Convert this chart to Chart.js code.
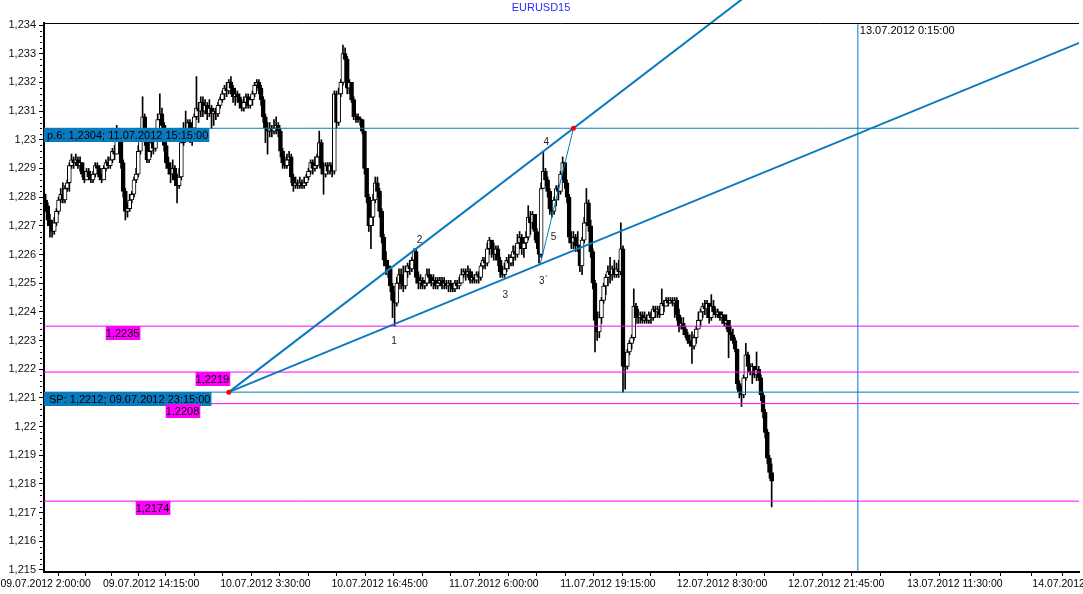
<!DOCTYPE html>
<html>
<head>
<meta charset="utf-8">
<title>EURUSD15</title>
<script src="https://cdn.jsdelivr.net/npm/chart.js@4.4.0/dist/chart.umd.min.js"></script>
<style>
  html, body { margin: 0; padding: 0; background: #fff; }
</style>
</head>
<body>
<canvas id="chart" width="1083" height="594"></canvas>
<script>
// EURUSD M15 from 09.07.2012 2:00, one entry per bar,
// prices in pips above 1.2000 (277 -> 1.2277)
const firstTime = '09.07.2012 2:00:00';
const firstOpen = 279;
const closes = [
  277,272,270,268,271,275,279,281,279,283,
  285,291,293,292,293,291,292,288,286,
  289,287,286,288,291,290,287,286,290,292,
  291,293,296,295,303,301,292,282,275,
  276,279,281,286,288,296,303,308,300,293,
  296,299,297,302,307,309,305,298,292,290,
  288,290,286,284,287,299,304,303,306,
  301,304,308,311,310,313,310,312,309,311,
  309,310,309,312,314,316,318,317,320,318,
  315,316,315,313,311,313,315,312,314,
  316,319,320,318,314,308,304,303,304,303,
  304,305,303,296,292,291,293,294,287,
  284,285,284,285,284,285,287,289,292,290,
  291,294,299,290,288,291,289,291,289,316,
  306,316,320,330,328,318,320,314,308,
  308,307,307,303,290,280,270,273,279,285,
  282,275,266,258,256,255,249,244,243,250,
  253,250,249,254,256,255,258,261,252,
  250,251,249,250,253,252,250,251,249,250,
  251,249,250,249,250,249,248,250,249,
  250,253,254,253,254,251,252,251,253,252,
  256,258,257,262,265,262,260,262,258,254,
  253,255,258,257,259,261,260,264,266,
  262,264,266,273,271,274,268,264,260,283,
  289,286,282,276,275,279,283,282,288,292,
  285,280,266,264,266,263,263,256,265,
  271,278,270,261,250,237,233,238,244,249,
  252,254,253,255,253,255,254,262,221,
  221,226,229,231,242,238,238,239,237,238,
  237,239,238,241,240,241,239,243,242,244,
  243,244,243,244,239,235,236,234,232,
  230,229,228,231,234,237,240,242,241,243,
  238,242,240,239,240,238,239,236,237,233,
  232,230,227,215,212,211,217,225,221,
  219,221,218,220,217,211,205,198,189,184,
  181
];
const highs = [
  281,278,274,272,273,276,280,283,285,284,
  286,292,295,294,295,294,294,292,289,
  290,290,288,289,292,292,291,288,291,293,
  294,294,297,298,305,304,302,293,283,
  278,281,282,287,290,298,304,315,309,301,
  300,301,300,303,309,316,311,306,299,294,
  292,293,291,288,290,300,306,310,307,
  307,306,309,322,313,315,315,314,313,314,
  312,311,311,313,315,317,319,320,321,322,
  319,318,317,316,314,315,316,316,315,
  317,320,321,321,319,315,309,306,306,305,
  307,308,306,304,297,294,295,296,295,
  288,287,286,287,286,287,288,290,293,293,
  294,295,303,300,292,292,292,292,292,317,
  317,318,321,333,332,329,321,320,315,
  309,309,308,307,303,290,281,275,281,287,
  287,283,276,267,261,258,256,250,247,252,
  255,255,256,256,257,258,259,262,262,
  254,253,252,251,255,255,253,253,252,252,
  252,252,252,251,251,251,250,251,251,
  252,255,255,255,256,255,254,253,254,254,
  257,259,259,264,266,265,264,263,263,259,
  256,257,259,260,260,263,263,267,268,
  267,266,268,277,275,275,274,269,265,285,
  296,290,287,283,278,280,284,284,289,294,
  292,286,281,268,268,267,268,263,266,
  273,283,279,272,262,251,240,240,245,250,
  253,256,259,256,258,257,258,271,263,
  226,227,230,232,248,243,241,240,240,240,
  239,240,240,242,242,242,242,248,244,245,
  245,245,245,245,245,241,238,238,235,
  233,232,233,232,235,240,241,243,244,244,
  243,246,244,241,241,240,240,239,239,237,
  235,234,231,227,216,214,218,229,226,
  222,222,221,226,221,218,212,206,199,190,
  187
];
const lows = [
  275,270,266,266,267,270,274,278,278,278,
  282,282,290,290,291,290,289,287,285,
  286,286,285,285,287,288,286,285,286,289,
  290,290,292,293,295,299,290,280,272,
  273,275,278,280,285,287,295,302,298,292,
  292,294,295,296,301,305,303,296,290,288,
  285,286,284,278,283,286,298,301,300,
  299,298,302,307,306,308,308,309,307,308,
  304,305,307,308,311,313,314,315,316,316,
  313,312,313,311,310,310,311,311,311,
  312,315,317,316,312,306,299,295,301,301,
  302,302,301,294,290,290,290,291,285,
  282,283,283,283,283,283,284,286,288,288,
  289,290,292,288,281,287,288,288,287,288,
  304,305,315,319,325,316,316,313,307,
  306,306,305,302,288,278,268,262,270,278,
  280,273,264,256,253,252,247,238,235,242,
  248,248,247,248,252,253,254,255,250,
  248,248,248,248,249,250,249,248,248,248,
  249,248,248,248,247,247,247,247,248,
  248,250,252,251,252,250,250,250,250,250,
  251,255,255,256,260,259,258,258,256,252,
  252,252,254,255,256,256,258,259,262,
  260,259,262,265,267,269,265,262,257,259,
  283,284,280,274,273,274,277,279,281,286,
  283,278,264,262,262,261,261,254,253,
  264,270,268,259,248,226,230,231,236,243,
  246,249,250,251,252,252,252,253,212,
  213,220,225,227,230,236,236,236,236,236,
  236,236,236,237,238,238,238,239,240,242,
  242,243,242,238,237,233,234,232,231,
  229,228,222,227,229,234,235,238,239,238,
  236,237,239,238,238,237,236,235,234,224,
  230,229,226,213,210,207,210,216,220,
  218,215,217,216,216,209,203,196,187,182,
  172
];

// time axis labels
const timeLabels = [
  '09.07.2012 2:00:00', '09.07.2012 14:15:00', '10.07.2012 3:30:00',
  '10.07.2012 16:45:00', '11.07.2012 6:00:00', '11.07.2012 19:15:00',
  '12.07.2012 8:30:00', '12.07.2012 21:45:00', '13.07.2012 11:30:00',
  '14.07.2012 1:45:00'
];
const priceTicks = [1.215, 1.216, 1.217, 1.218, 1.219, 1.22, 1.221, 1.222, 1.223, 1.224,
  1.225, 1.226, 1.227, 1.228, 1.229, 1.23, 1.231, 1.232, 1.233, 1.234];

// horizontal levels
const levelPrices = [1.2304, 1.2235, 1.2219, 1.2212, 1.2208, 1.2174];
const levelTexts = ['p.6: 1,2304; 11.07.2012 15:15:00', '1,2235', '1,2219',
  'SP: 1,2212; 09.07.2012 23:15:00', '1,2208', '1,2174'];

// wave points
const spTime = '09.07.2012 23:15:00', spPrice = 1.2212;
const p6Time = '11.07.2012 15:15:00', p6Price = 1.2304;
const point1 = { bar: 161.2, price: 1.22355 };
const point3b = { bar: 229.6, price: 1.22566 };
const waveTexts = ['1', '2', '3', '3`', '4', '5'];
const waveBars = [161.7, 173.6, 213.4, 231.1, 232.4, 235.7];
const wavePrices = [1.22296, 1.22648, 1.22459, 1.22508, 1.22991, 1.2266];

const markerText = '13.07.2012 0:15:00';

// ---- view / style ----
const X_MIN = -0.76, X_MAX = 479.66;
const Y_MIN = 1.21493, Y_MAX = 1.23407;
const BLUE = '#0a7abf';
const MAGENTA = '#ff00ff';
const FONT = '"Liberation Sans", Arial, sans-serif';

function parseTime(s) {
  const m = s.match(/(\d+)\.(\d+)\.(\d+) (\d+):(\d+):(\d+)/);
  return Date.UTC(+m[3], +m[2] - 1, +m[1], +m[4], +m[5], +m[6]);
}
const t0 = parseTime(firstTime);
const barOf = s => (parseTime(s) - t0) / 900000;

const toPrice = p => +(1.2 + p / 10000).toFixed(5);

const opens = closes.map((c, i) => i === 0 ? firstOpen : closes[i - 1]);
const wickData = closes.map((c, i) => ({
  x: i,
  y: [toPrice(Math.min(lows[i], opens[i], c)), toPrice(Math.max(highs[i], opens[i], c))]
}));
const bodyData = closes.map((c, i) => ({ x: i, y: [toPrice(opens[i]), toPrice(c)] }));
const bodyColors = closes.map((c, i) => c > opens[i] ? '#ffffff' : '#000000');

const spPoint = { bar: barOf(spTime), price: spPrice };
const p6Point = { bar: barOf(p6Time), price: p6Price };
const markerBar = barOf(markerText);

function lineThrough(a, b, toBar) {
  const slope = (b.price - a.price) / (b.bar - a.bar);
  return [{ x: a.bar, y: a.price }, { x: toBar, y: a.price + slope * (toBar - a.bar) }];
}

const levelColors = [BLUE, MAGENTA, MAGENTA, BLUE, MAGENTA, MAGENTA];
const levelSets = levelPrices.map((p, k) => ({
  type: 'line',
  data: [{ x: X_MIN, y: p }, { x: X_MAX, y: p }],
  borderColor: levelColors[k],
  borderWidth: 1,
  pointRadius: 0,
  order: 3
}));

const tickBars = timeLabels.map(barOf);
const xTicks = [];
tickBars.forEach((b, k) => {
  xTicks.push(b);
  const next = tickBars[k + 1];
  if (next !== undefined) {
    for (let m = 1; m < 4; m++) xTicks.push(b + (next - b) * m / 4);
  }
});
const tickLabelAt = new Map(tickBars.map((b, k) => [b, timeLabels[k]]));

function priceLabel(v) {
  return (+v.toFixed(3)).toString().replace('.', ',');
}

// label boxes: [level index, left bar (null = chart left), pad left, pad right]
const boxPlaces = [[0, null, 3, 1], [1, 27.9, 0, 1], [2, 69.6, 0, 1], [3, null, 5, 1], [4, 55.7, 0, 1], [5, 41.8, 0, 1]];

const overlay = {
  id: 'overlay',
  afterDatasetsDraw(chart) {
    const { ctx, chartArea: a, scales: { x, y } } = chart;
    ctx.save();
    // frame top
    ctx.strokeStyle = '#000';
    ctx.lineWidth = 1;
    ctx.beginPath();
    ctx.moveTo(a.left, a.top + 0.5);
    ctx.lineTo(a.right, a.top + 0.5);
    ctx.stroke();

    // level boxes
    ctx.font = '11px ' + FONT;
    ctx.textBaseline = 'middle';
    boxPlaces.forEach(([k, bar, pl, pr]) => {
      const text = levelTexts[k];
      const left = bar === null ? a.left : x.getPixelForValue(bar);
      const top = Math.round(y.getPixelForValue(levelPrices[k]));
      const w = ctx.measureText(text).width + pl + pr;
      ctx.fillStyle = levelColors[k];
      ctx.fillRect(left, top, w, 14);
      ctx.fillStyle = '#000';
      ctx.fillText(text, left + pl, top + 7.5);
    });

    // wave numbers
    ctx.font = '10px ' + FONT;
    ctx.textAlign = 'center';
    ctx.fillStyle = '#222';
    waveTexts.forEach((t, k) => {
      ctx.fillText(t, x.getPixelForValue(waveBars[k]), y.getPixelForValue(wavePrices[k]));
    });

    // vertical marker text
    ctx.textAlign = 'left';
    ctx.textBaseline = 'top';
    ctx.font = '11px ' + FONT;
    ctx.fillStyle = '#000';
    ctx.fillText(markerText, x.getPixelForValue(markerBar) + 2, a.top + 2);
    ctx.restore();
  },
  afterDraw(chart) {
    const { ctx, chartArea: a, scales: { y } } = chart;
    ctx.save();
    // title
    ctx.font = '11px ' + FONT;
    ctx.fillStyle = '#2a2aff';
    ctx.textAlign = 'center';
    ctx.textBaseline = 'middle';
    ctx.fillText('EURUSD15', 541, 8);
    // minor price ticks
    ctx.strokeStyle = '#000';
    ctx.lineWidth = 1;
    for (let k = 0; k < priceTicks.length - 1; k++) {
      for (let m = 1; m < 5; m++) {
        const py = Math.round(y.getPixelForValue(priceTicks[k] + m * 0.0002)) + 0.5;
        ctx.beginPath();
        ctx.moveTo(a.left - 4, py);
        ctx.lineTo(a.left - 2, py);
        ctx.stroke();
      }
    }
    ctx.restore();
  }
};

new Chart(document.getElementById('chart'), {
  type: 'bar',
  data: {
    datasets: [
      {
        type: 'bar', data: wickData, backgroundColor: '#000', barThickness: 1,
        grouped: false, order: 6
      },
      {
        type: 'bar', data: bodyData, backgroundColor: bodyColors, borderColor: '#000',
        borderWidth: 1, borderSkipped: false, barThickness: 4, minBarLength: 1,
        grouped: false, order: 5
      },
      ...levelSets,
      {
        type: 'line', data: [{ x: markerBar, y: Y_MIN }, { x: markerBar, y: Y_MAX }],
        borderColor: BLUE, borderWidth: 1, pointRadius: 0, order: 3
      },
      {
        type: 'line', data: lineThrough(spPoint, p6Point, 330),
        borderColor: BLUE, borderWidth: 2, pointRadius: 0, clip: false, order: 2
      },
      {
        type: 'line', data: lineThrough(spPoint, point1, X_MAX + 1),
        borderColor: BLUE, borderWidth: 2, pointRadius: 0, order: 2
      },
      {
        type: 'line', data: [{ x: point3b.bar, y: point3b.price }, { x: p6Point.bar, y: p6Point.price }],
        borderColor: BLUE, borderWidth: 1, pointRadius: 0, order: 2
      },
      {
        type: 'line', data: [{ x: spPoint.bar, y: spPoint.price }, { x: p6Point.bar, y: p6Point.price }],
        showLine: false, pointRadius: 2.5, pointBackgroundColor: '#ff0000',
        pointBorderColor: '#ff0000', pointBorderWidth: 0, order: 1
      }
    ]
  },
  options: {
    responsive: false,
    animation: false,
    events: [],
    layout: { padding: { top: 23, right: 1, left: 0, bottom: 0 } },
    plugins: { legend: { display: false }, tooltip: { enabled: false } },
    scales: {
      x: {
        type: 'linear', min: X_MIN, max: X_MAX, offset: false,
        grid: { drawOnChartArea: false, drawTicks: true, tickLength: 4, color: '#000' },
        border: { display: true, color: '#000', width: 2 },
        ticks: {
          autoSkip: false, maxRotation: 0, minRotation: 0, padding: 2,
          color: '#000', font: { family: FONT, size: 10.5 },
          callback: v => tickLabelAt.get(v) || ''
        },
        afterBuildTicks: s => { s.ticks = xTicks.map(v => ({ value: v })); },
        afterFit: s => { s.height = 22; s.paddingLeft = 0; s.paddingRight = 0; }
      },
      y: {
        type: 'linear', min: Y_MIN, max: Y_MAX,
        grid: { drawOnChartArea: false, drawTicks: true, tickLength: 5, color: '#000' },
        border: { display: true, color: '#000', width: 2 },
        ticks: {
          padding: 3, color: '#111', font: { family: FONT, size: 11 },
          callback: v => priceLabel(v)
        },
        afterBuildTicks: s => { s.ticks = priceTicks.map(v => ({ value: v })); },
        afterFit: s => { s.width = 44; s.paddingTop = 0; s.paddingBottom = 0; }
      }
    }
  },
  plugins: [overlay]
});
</script>
</body>
</html>
